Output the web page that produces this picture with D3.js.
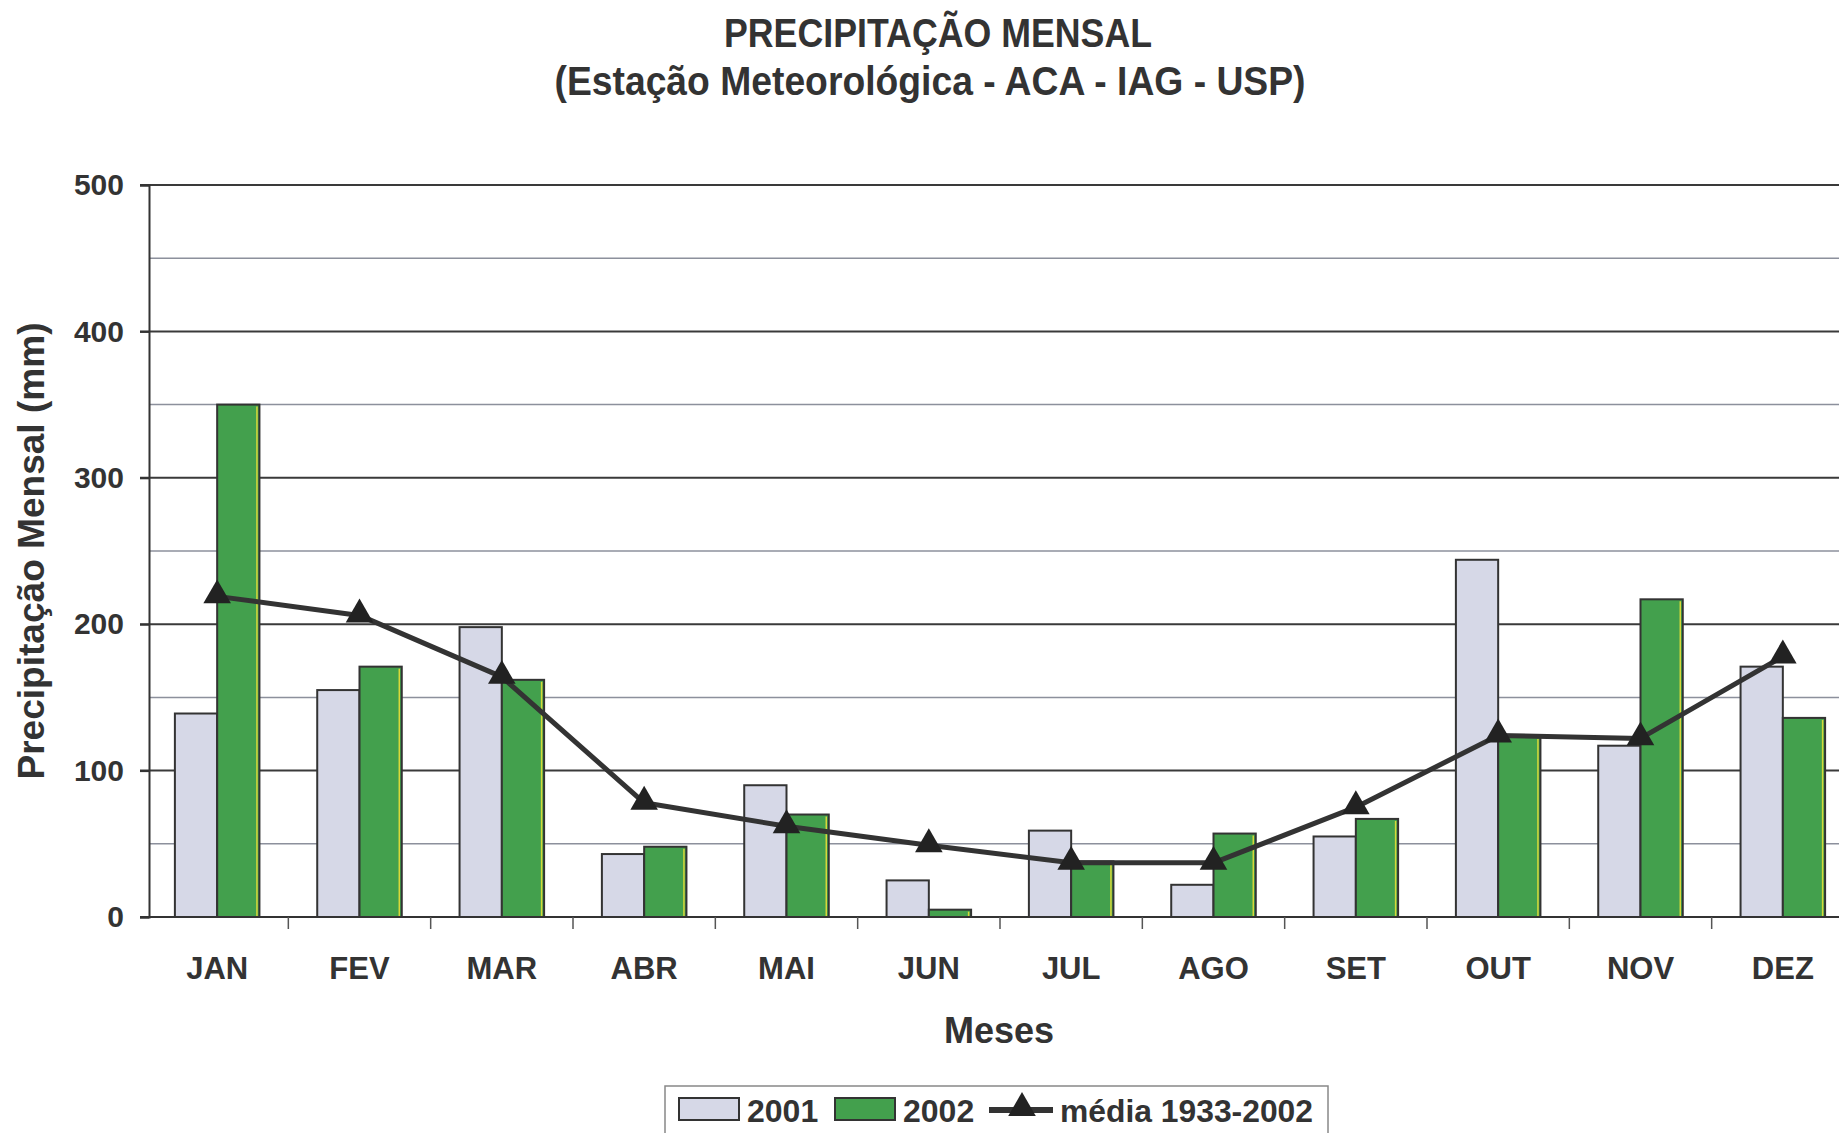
<!DOCTYPE html>
<meta charset="utf-8">
<style>
body { margin: 0; background: #fff; }
text { font-family: "Liberation Sans", Arial, sans-serif; font-weight: bold; fill: #333; }
.grid-major { stroke: #3a3a3a; stroke-width: 2; }
.grid-minor { stroke: #8c909c; stroke-width: 1.5; }
.bar { stroke: #333; stroke-width: 2; }
.media { fill: none; stroke: #333; stroke-width: 5; stroke-linejoin: round; }
</style>
<body></body>
<script src="https://d3js.org/d3.v7.min.js"></script>
<script>
// months along the x axis
var meses = ["JAN", "FEV", "MAR", "ABR", "MAI", "JUN", "JUL", "AGO", "SET", "OUT", "NOV", "DEZ"];
// monthly precipitation (mm)
var p2001 = [139, 155, 198, 43, 90, 25, 59, 22, 55, 244, 117, 171];
var p2002 = [350, 171, 162, 48, 70, 5, 38, 57, 67, 123, 217, 136];
var media = [219, 206, 164, 78, 62, 49, 37, 37, 75, 124, 122, 178];
var yTicks = [0, 100, 200, 300, 400, 500];
var yMinor = [50, 150, 250, 350, 450];
var series = ["2001", "2002"];

var W = 1839, H = 1133;
// plot area (right edge runs past the window, as in the scan)
var plotL = 149, plotR = 1857, plotT = 185, plotB = 917;

var svg = d3.select("body").append("svg")
    .attr("width", W)
    .attr("height", H);

var x = d3.scaleBand()
    .domain(meses)
    .range([plotL - 3, plotR - 3])
    .paddingInner(0.406)
    .paddingOuter(0.203);

var xs = d3.scaleBand()
    .domain(series)
    .range([0, x.bandwidth()]);

var y = d3.scaleLinear()
    .domain([0, 500])
    .range([plotB, plotT]);

// gridlines
svg.selectAll(".grid-minor")
    .data(yMinor)
  .enter().append("line")
    .attr("class", "grid-minor")
    .attr("x1", plotL).attr("x2", W)
    .attr("y1", function(d) { return y(d); })
    .attr("y2", function(d) { return y(d); });

svg.selectAll(".grid-major")
    .data(yTicks.filter(function(d) { return d > 0; }))
  .enter().append("line")
    .attr("class", "grid-major")
    .attr("x1", plotL - 9).attr("x2", W)
    .attr("y1", function(d) { return y(d); })
    .attr("y2", function(d) { return y(d); });

// y axis
var yAxis = d3.axisLeft(y).tickValues(yTicks).tickSize(9).tickPadding(16);
var gy = svg.append("g")
    .attr("transform", "translate(" + plotL + ",0)")
    .call(yAxis);
gy.select(".domain").attr("stroke", "#333").attr("stroke-width", 2);
gy.selectAll(".tick line").attr("stroke", "#333").attr("stroke-width", 2);
gy.selectAll(".tick text").style("font-size", "30px").attr("fill", "#333")
    .style("font-family", "'Liberation Sans', Arial, sans-serif");

// bars
var data = meses.map(function(m, i) {
  return {mes: m, vals: [{s: "2001", v: p2001[i]}, {s: "2002", v: p2002[i]}]};
});

var groups = svg.selectAll(".grp")
    .data(data)
  .enter().append("g")
    .attr("class", "grp")
    .attr("transform", function(d) { return "translate(" + x(d.mes) + ",0)"; });

groups.selectAll("rect")
    .data(function(d) { return d.vals; })
  .enter().append("rect")
    .attr("class", "bar")
    .attr("x", function(d) { return xs(d.s); })
    .attr("width", xs.bandwidth())
    .attr("y", function(d) { return y(d.v); })
    .attr("height", function(d) { return y(0) - y(d.v); })
    .attr("fill", function(d) { return d.s == "2001" ? "#d6d8e7" : "#43a04d"; });

// thin yellow edge on the green bars
groups.selectAll(".edge")
    .data(function(d) { return d.vals.filter(function(e) { return e.s == "2002"; }); })
  .enter().append("line")
    .attr("class", "edge")
    .attr("x1", function(d) { return xs(d.s) + xs.bandwidth() - 2.5; })
    .attr("x2", function(d) { return xs(d.s) + xs.bandwidth() - 2.5; })
    .attr("y1", function(d) { return y(d.v) + 2; })
    .attr("y2", y(0) - 1)
    .attr("stroke", "#d8d83a")
    .attr("stroke-width", 1.5);

// x axis baseline and ticks at band edges
svg.append("line")
    .attr("x1", plotL - 9).attr("x2", W)
    .attr("y1", y(0)).attr("y2", y(0))
    .attr("stroke", "#333").attr("stroke-width", 2);

svg.selectAll(".xtick")
    .data(meses)
  .enter().append("line")
    .attr("class", "xtick")
    .attr("x1", function(d) { return x(d) - x.step() * x.paddingInner() / 2 + x.step(); })
    .attr("x2", function(d) { return x(d) - x.step() * x.paddingInner() / 2 + x.step(); })
    .attr("y1", y(0)).attr("y2", y(0) + 12)
    .attr("stroke", "#555").attr("stroke-width", 1.5);

svg.selectAll(".xlab")
    .data(meses)
  .enter().append("text")
    .attr("class", "xlab")
    .attr("x", function(d) { return x(d) + x.bandwidth() / 2; })
    .attr("y", 979)
    .attr("text-anchor", "middle")
    .style("font-size", "31px")
    .text(function(d) { return d; });

// mean line with triangles
var line = d3.line()
    .x(function(d, i) { return x(meses[i]) + x.bandwidth() / 2; })
    .y(function(d) { return y(d); });

svg.append("path")
    .datum(media)
    .attr("class", "media")
    .attr("d", line);

svg.selectAll(".tri")
    .data(media)
  .enter().append("path")
    .attr("class", "tri")
    .attr("d", d3.symbol(d3.symbolTriangle, 330))
    .attr("fill", "#222")
    .attr("transform", function(d, i) {
      return "translate(" + (x(meses[i]) + x.bandwidth() / 2) + "," + (y(d) - 1) + ")";
    });

// titles
svg.append("text")
    .attr("x", 938).attr("y", 47)
    .attr("text-anchor", "middle")
    .attr("textLength", 428).attr("lengthAdjust", "spacingAndGlyphs")
    .style("font-size", "40px")
    .text("PRECIPITAÇÃO MENSAL");

svg.append("text")
    .attr("x", 930).attr("y", 95)
    .attr("text-anchor", "middle")
    .attr("textLength", 751).attr("lengthAdjust", "spacingAndGlyphs")
    .style("font-size", "40px")
    .text("(Estação Meteorológica - ACA - IAG - USP)");

svg.append("text")
    .attr("transform", "translate(44,551) rotate(-90)")
    .attr("text-anchor", "middle")
    .attr("textLength", 457).attr("lengthAdjust", "spacingAndGlyphs")
    .style("font-size", "36px")
    .text("Precipitação Mensal (mm)");

svg.append("text")
    .attr("x", 999).attr("y", 1043)
    .attr("text-anchor", "middle")
    .style("font-size", "36px")
    .text("Meses");

// legend
var lg = svg.append("g");
lg.append("rect")
    .attr("x", 665).attr("y", 1086)
    .attr("width", 663).attr("height", 60)
    .attr("fill", "#fff").attr("stroke", "#888").attr("stroke-width", 1.5);

lg.append("rect").attr("class", "bar")
    .attr("x", 679).attr("y", 1098).attr("width", 60).attr("height", 22)
    .attr("fill", "#d6d8e7");
lg.append("text").attr("x", 747).attr("y", 1122).style("font-size", "32px").text(series[0]);

lg.append("rect").attr("class", "bar")
    .attr("x", 835).attr("y", 1098).attr("width", 60).attr("height", 22)
    .attr("fill", "#43a04d");
lg.append("text").attr("x", 903).attr("y", 1122).style("font-size", "32px").text(series[1]);

lg.append("line")
    .attr("x1", 989).attr("x2", 1053).attr("y1", 1110).attr("y2", 1110)
    .attr("stroke", "#333").attr("stroke-width", 6);
lg.append("path")
    .attr("d", d3.symbol(d3.symbolTriangle, 330))
    .attr("fill", "#222")
    .attr("transform", "translate(1022,1108)");
lg.append("text").attr("x", 1060).attr("y", 1122)
    .attr("textLength", 253).attr("lengthAdjust", "spacingAndGlyphs")
    .style("font-size", "32px").text("média 1933-2002");
</script>
